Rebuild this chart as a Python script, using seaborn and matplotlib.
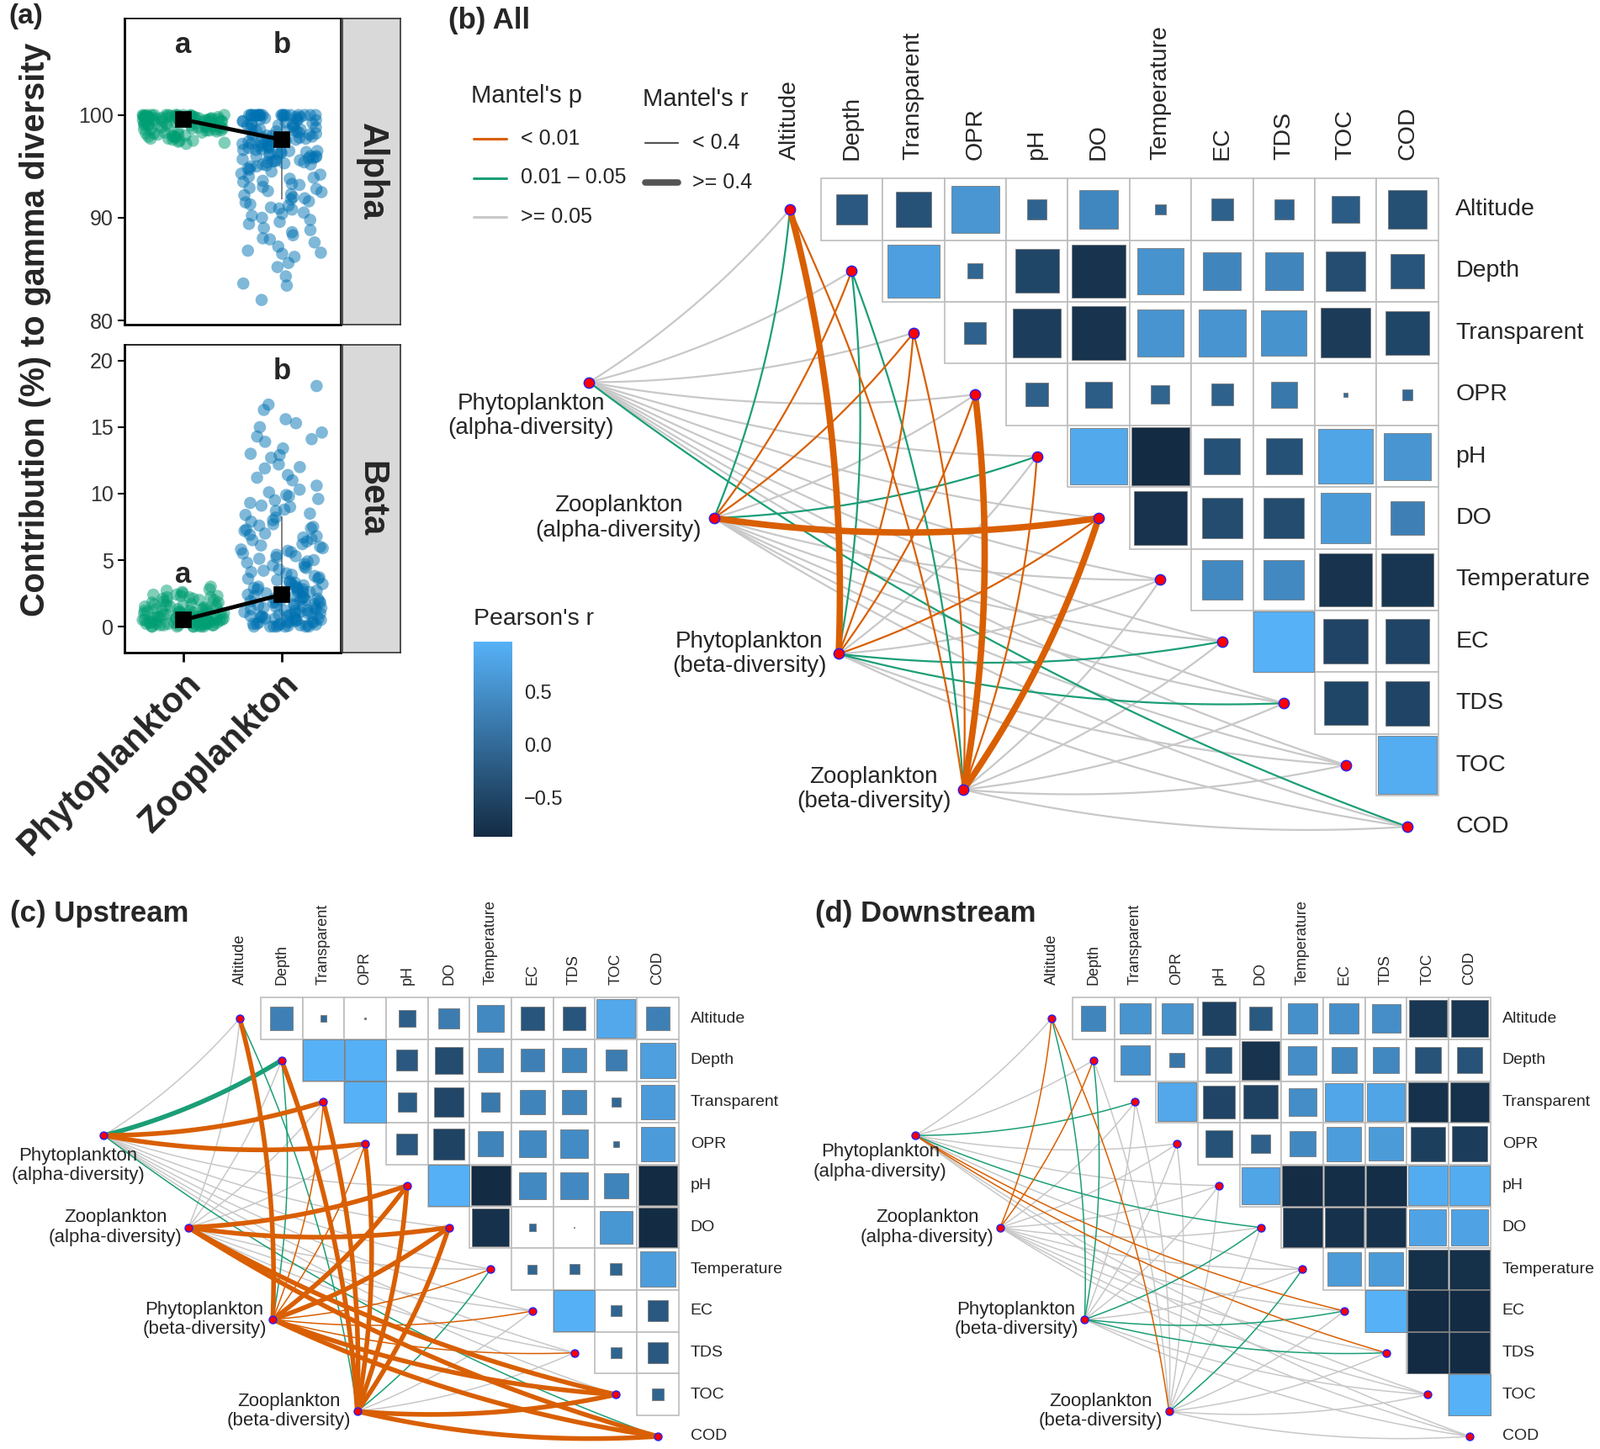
import numpy as np
import pandas as pd
import matplotlib
matplotlib.use("Agg")
import matplotlib.pyplot as plt
import seaborn as sns
from matplotlib.colors import LinearSegmentedColormap, Normalize
from matplotlib.patches import Rectangle
from matplotlib.lines import Line2D
from matplotlib.cm import ScalarMappable
from matplotlib.ticker import FuncFormatter

sns.set_theme(style="white")
plt.rcParams["font.family"] = ["Liberation Sans", "DejaVu Sans"]

W, H = 1902, 1723

# ---------------- panel (a): contribution to gamma diversity ----------------
groups = ["Phytoplankton", "Zooplankton"]
group_colors = ["#009E73", "#0072B2"]

phyto_alpha = [100.0, 100.0, 100.0, 100.0, 100.0, 100.0, 99.9, 99.9, 99.9, 99.8, 99.8, 99.8,
               99.7, 99.7, 99.7, 99.6, 99.6, 99.5, 99.5, 99.5, 99.4, 99.4, 99.3, 99.3, 99.2,
               99.2, 99.1, 99.1, 99.0, 99.0, 98.9, 98.8, 98.8, 98.7, 98.6, 98.5, 98.5, 98.4,
               98.3, 98.2, 98.1, 98.0, 97.9, 97.8, 97.7, 97.6, 97.5, 97.4, 97.3, 99.9, 99.6,
               99.4, 99.0, 98.6, 98.2, 100.0, 99.8, 99.3, 98.9, 97.9, 100.0, 100.0, 100.0, 99.9,
               99.9, 99.8, 99.8, 99.7, 99.7, 99.6, 99.6, 99.5, 99.5, 99.4, 99.4, 99.3, 99.2,
               99.1, 99.0, 98.9, 98.8, 98.7, 98.6, 98.4, 98.3, 98.1, 97.9, 97.7, 97.5, 97.2,
               100.0, 99.9, 99.8, 99.7, 99.5, 99.3, 99.1, 98.8, 98.5, 98.0]
zoo_alpha = [100.0, 100.0, 100.0, 100.0, 100.0, 100.0, 100.0, 100.0, 100.0, 100.0, 99.9, 99.8,
             99.7, 99.6, 99.5, 99.4, 99.3, 99.2, 99.1, 99.0, 98.9, 98.8, 98.7, 98.6, 98.5, 98.4,
             98.3, 98.2, 98.1, 98.0, 97.9, 97.8, 97.7, 97.6, 97.5, 97.4, 97.3, 97.2, 97.1, 97.0,
             96.9, 96.8, 96.7, 96.6, 96.5, 96.4, 96.3, 96.2, 96.1, 96.0, 95.9, 95.8, 95.7, 95.6,
             95.5, 95.4, 95.3, 95.2, 95.1, 95.0, 99.9, 99.5, 99.0, 98.5, 98.0, 97.5, 97.0, 96.5,
             96.0, 95.5, 94.8, 94.5, 94.2, 94.0, 93.8, 93.5, 93.3, 93.0, 92.8, 92.5, 92.3, 92.0,
             91.8, 91.5, 91.3, 91.0, 90.8, 90.5, 90.2, 90.0, 89.8, 89.4, 89.0, 88.6, 88.3, 88.0,
             87.6, 87.2, 86.8, 86.5, 86.2, 85.6, 85.2, 84.3, 83.6, 83.4, 82.0, 100.0, 100.0,
             100.0, 100.0, 100.0, 100.0, 100.0, 100.0, 99.8, 99.6, 99.4, 99.2, 99.0, 98.8, 98.6,
             98.4, 98.2, 98.0, 97.8, 97.6, 97.4, 97.2, 97.0, 96.8, 96.6, 96.4, 96.2, 96.0, 95.8,
             95.6, 95.4, 95.2, 95.0, 94.7, 94.3, 93.9, 93.6, 93.2, 92.9, 92.6, 92.2, 91.9, 91.6,
             91.2, 90.9, 90.4, 89.6, 88.8, 87.9, 86.6]
phyto_beta = [0.0, 0.0, 0.0, 0.0, 0.1, 0.1, 0.1, 0.2, 0.2, 0.2, 0.3, 0.3, 0.3, 0.4, 0.4, 0.4,
              0.5, 0.5, 0.5, 0.6, 0.6, 0.7, 0.7, 0.8, 0.8, 0.9, 0.9, 1.0, 1.0, 1.1, 1.1, 1.2,
              1.2, 1.3, 1.3, 1.4, 1.5, 1.5, 1.6, 1.7, 1.8, 1.9, 2.0, 2.1, 2.2, 2.3, 2.4, 2.5,
              2.7, 3.0, 0.0, 0.2, 0.4, 0.6, 0.8, 1.0, 0.1, 0.3, 0.5, 0.7, 2.2, 1.6, 0.0, 0.0,
              0.1, 0.2, 0.3, 0.4, 0.5, 0.6, 0.7, 0.8, 0.9, 1.0, 1.1, 1.2, 1.3, 1.4, 1.6, 1.8,
              2.0, 2.2, 2.4, 2.6, 0.05, 0.15, 0.25, 0.35, 0.45, 0.55, 0.65, 0.75, 0.85, 0.95,
              1.05, 1.25, 1.45, 1.65, 1.9, 2.1, 2.3, 2.8]
zoo_beta = [18.1, 16.7, 16.3, 15.6, 15.0, 14.6, 14.1, 13.9, 13.4, 12.9, 12.7, 12.2, 11.9, 11.4,
            11.0, 10.6, 10.3, 9.9, 9.6, 9.3, 9.0, 8.8, 8.5, 8.2, 0.0, 0.0, 0.0, 0.0, 0.1, 0.2,
            0.3, 0.4, 0.5, 0.6, 0.7, 0.8, 0.9, 1.0, 1.1, 1.2, 1.3, 1.4, 1.5, 1.6, 1.7, 1.8, 1.9,
            2.0, 2.1, 2.2, 2.3, 2.4, 2.5, 2.6, 2.7, 2.8, 2.9, 3.0, 3.1, 3.2, 3.3, 3.4, 3.5, 3.6,
            3.8, 4.0, 4.2, 4.4, 4.6, 4.8, 5.0, 5.2, 5.4, 5.6, 5.8, 6.0, 6.2, 6.5, 6.8, 7.0, 7.3,
            7.6, 7.9, 0.2, 0.5, 0.8, 1.1, 1.4, 1.7, 2.0, 2.3, 2.6, 2.9, 3.2, 0.3, 0.6, 0.9, 1.2,
            1.5, 1.8, 2.1, 0.1, 0.4, 0.7, 1.0, 1.3, 4.5, 5.5, 6.6, 7.5, 3.7, 2.8, 1.9, 0.0, 0.05,
            0.15, 0.0, 0.0, 0.1, 0.2, 0.3, 0.4, 0.5, 0.6, 0.7, 0.8, 0.9, 1.0, 1.2, 1.4, 1.6, 1.8,
            2.0, 2.2, 2.4, 2.6, 2.8, 3.0, 3.3, 3.6, 3.9, 4.1, 4.3, 4.7, 4.9, 5.1, 5.3, 5.7, 5.9,
            6.1, 6.4, 6.7, 6.9, 7.2, 7.4, 7.7, 8.0, 8.4, 8.7, 9.1, 9.5, 9.8, 10.1, 11.2, 12.0,
            13.0, 14.3, 15.3]

alpha_means = [99.55, 97.6]
beta_means = [0.5, 2.4]
alpha_err_lo, alpha_err_hi = [99.0, 91.8], [100.0, 100.0]
beta_err_lo, beta_err_hi = [0.0, 0.0], [1.2, 8.3]
alpha_letters, alpha_letter_y = ["a", "b"], [106.8, 106.8]
beta_letters, beta_letter_y = ["a", "b"], [3.9, 19.2]

# ---------------- panels (b)-(d): Mantel networks + correlations ----------------
env_vars = ["Altitude", "Depth", "Transparent", "OPR", "pH", "DO", "Temperature",
            "EC", "TDS", "TOC", "COD"]
species_labels = ["Phytoplankton\n(alpha-diversity)", "Zooplankton\n(alpha-diversity)",
                  "Phytoplankton\n(beta-diversity)", "Zooplankton\n(beta-diversity)"]

# Pearson's r, upper triangle without diagonal (row i -> columns i+1..10)
corr_all = [
    [-0.25, -0.33, 0.60, -0.10, 0.40, -0.03, -0.13, -0.10, -0.20, -0.38],
    [0.72, -0.06, -0.50, -0.75, 0.55, 0.38, 0.38, -0.40, -0.30],
    [-0.12, -0.62, -0.75, 0.57, 0.57, 0.55, -0.65, -0.50],
    [-0.14, -0.18, -0.09, -0.12, 0.18, 0.005, -0.03],
    [0.85, -0.87, -0.34, -0.34, 0.80, 0.58],
    [-0.75, -0.42, -0.42, 0.65, 0.30],
    [0.42, 0.42, -0.75, -0.72],
    [0.97, -0.52, -0.52],
    [-0.50, -0.52],
    [0.90],
]
corr_up = [
    [0.30, -0.02, 0.003, -0.16, 0.25, 0.42, -0.30, -0.30, 0.85, 0.30],
    [0.98, 0.97, -0.25, -0.42, 0.35, 0.30, 0.35, 0.25, 0.72],
    [0.98, -0.20, -0.50, 0.20, 0.35, 0.35, -0.05, 0.68],
    [-0.25, -0.55, 0.35, 0.42, 0.45, -0.02, 0.68],
    [0.97, -0.88, 0.42, 0.42, 0.35, -0.88],
    [-0.80, -0.03, 0.001, 0.60, -0.87],
    [-0.05, -0.06, -0.08, 0.70],
    [0.97, -0.07, -0.25],
    [-0.07, -0.25],
    [-0.08],
]
corr_down = [
    [0.35, 0.55, 0.55, -0.65, -0.30, 0.50, 0.50, 0.47, -0.80, -0.80],
    [0.50, 0.12, -0.38, -0.85, 0.46, 0.38, 0.38, -0.38, -0.38],
    [0.85, -0.60, -0.65, 0.45, 0.82, 0.80, -0.88, -0.88],
    [-0.40, -0.20, 0.38, 0.68, 0.66, -0.68, -0.72],
    [0.80, -0.95, -0.93, -0.93, 0.90, 0.90],
    [-0.88, -0.88, -0.88, 0.78, 0.78],
    [0.66, 0.66, -0.90, -0.90],
    [0.98, -0.97, -0.97],
    [-0.97, -0.97],
    [0.98],
]

# Mantel's p class: 0 = < 0.01, 1 = 0.01 - 0.05, 2 = >= 0.05 (rows: species, cols: env_vars)
p_class_all = [
    [2, 2, 2, 2, 2, 2, 2, 2, 2, 2, 1],
    [1, 0, 0, 2, 1, 0, 2, 2, 2, 2, 2],
    [0, 1, 0, 0, 2, 0, 2, 1, 1, 2, 2],
    [0, 1, 0, 0, 0, 0, 2, 2, 2, 2, 2],
]
# Mantel's r class: 0 = < 0.4, 1 = >= 0.4
r_class_all = [
    [0, 0, 0, 0, 0, 0, 0, 0, 0, 0, 0],
    [0, 0, 0, 0, 0, 1, 0, 0, 0, 0, 0],
    [1, 0, 0, 0, 0, 0, 0, 0, 0, 0, 0],
    [0, 0, 0, 1, 0, 1, 0, 0, 0, 0, 0],
]
p_class_up = [
    [2, 1, 0, 0, 2, 2, 2, 2, 2, 2, 1],
    [2, 2, 2, 2, 0, 0, 2, 2, 2, 0, 0],
    [0, 1, 0, 0, 0, 0, 0, 0, 0, 0, 0],
    [1, 0, 0, 0, 0, 0, 1, 2, 2, 0, 0],
]
r_class_up = [
    [0, 1, 1, 1, 0, 0, 0, 0, 0, 0, 0],
    [0, 0, 0, 0, 1, 1, 0, 0, 0, 1, 1],
    [1, 0, 0, 0, 1, 1, 0, 0, 0, 1, 1],
    [0, 1, 1, 1, 1, 1, 0, 0, 0, 1, 1],
]
p_class_down = [
    [2, 2, 1, 2, 2, 1, 2, 0, 0, 2, 2],
    [0, 0, 2, 2, 2, 2, 2, 2, 2, 2, 2],
    [1, 1, 2, 2, 2, 1, 2, 1, 1, 2, 2],
    [0, 2, 2, 2, 2, 2, 1, 2, 2, 2, 2],
]
r_class_down = [
    [0, 0, 0, 0, 0, 0, 0, 0, 0, 0, 0],
    [0, 0, 0, 0, 0, 0, 0, 0, 0, 0, 0],
    [0, 0, 0, 0, 0, 0, 0, 0, 0, 0, 0],
    [0, 0, 0, 0, 0, 0, 0, 0, 0, 0, 0],
]

p_labels = ["< 0.01", "0.01 \u2013 0.05", ">= 0.05"]
p_colors = ["#D95F02", "#1B9E77", "#C8C8C8"]
r_labels = ["< 0.4", ">= 0.4"]

cmap = LinearSegmentedColormap.from_list("gg_blues", ["#132B43", "#56B1F7"])


def fig_rect(x0, y0, x1, y1):
    """pixel box (top-left origin) -> figure fraction rect"""
    return [x0 / W, 1 - y1 / H, (x1 - x0) / W, (y1 - y0) / H]


def curve(p0, p1, k=0.075, n=40):
    # quadratic bezier bowing to the right-hand side of the direction p0 -> p1 (y axis points down)
    p0, p1 = np.asarray(p0, float), np.asarray(p1, float)
    d = p1 - p0
    ctrl = (p0 + p1) / 2 + k * np.array([-d[1], d[0]])
    t = np.linspace(0, 1, n)[:, None]
    pts = (1 - t) ** 2 * p0 + 2 * (1 - t) * t * ctrl + t ** 2 * p1
    return pts[:, 0], pts[:, 1]


def network_panel(fig, origin, cell, xlim, ylim, corr, p_class, r_class, fs_row, fs_col,
                  fs_sp, lw_thin, lw_thick, node_s, sp_gap, pa_offset):
    x0 = origin[0] + xlim[0] * cell
    x1 = origin[0] + xlim[1] * cell
    y0 = origin[1] + ylim[0] * cell
    y1 = origin[1] + ylim[1] * cell
    ax = fig.add_axes(fig_rect(x0, y0, x1, y1))
    ax.set_xlim(*xlim)
    ax.set_ylim(ylim[1], ylim[0])
    ax.axis("off")

    flat = [v for row in corr for v in row]
    norm = Normalize(vmin=min(flat), vmax=max(flat))

    n = len(env_vars)
    for i, row in enumerate(corr):
        for k, r in enumerate(row):
            j = i + 1 + k
            ax.add_patch(Rectangle((j - 0.5, i - 0.5), 1, 1, facecolor="white",
                                   edgecolor="#BDBDBD", lw=1.2, zorder=1))
            side = np.sqrt(abs(r))
            ax.add_patch(Rectangle((j - side / 2, i - side / 2), side, side,
                                   facecolor=cmap(norm(r)), edgecolor="#7A7A7A",
                                   lw=0.6, zorder=2))

    for i, name in enumerate(env_vars):
        ax.text(n - 0.5 + 0.28, i, name, ha="left", va="center", fontsize=fs_row)
        ax.text(i, -0.5 - 0.3, name, ha="center", va="bottom", rotation=90, fontsize=fs_col)

    env_x = np.arange(n, dtype=float)
    env_y = np.arange(n, dtype=float)
    sp_x = -3.25 + 2.02 * np.arange(len(species_labels))
    sp_y = 2.8 + 2.2 * np.arange(len(species_labels))

    links = []
    for s in range(len(species_labels)):
        for e in range(n):
            links.append((p_class[s][e], r_class[s][e], s, e))
    links.sort(key=lambda t: (-t[0], t[1]))
    for pc, rc, s, e in links:
        xs, ys = curve((sp_x[s], sp_y[s]), (env_x[e], env_y[e]))
        ax.plot(xs, ys, color=p_colors[pc], lw=lw_thick if rc else lw_thin,
                solid_capstyle="round", zorder=3)

    ax.scatter(env_x, env_y, s=node_s, color="#FF0000", edgecolor="#2020FF", lw=1.0, zorder=5)
    ax.scatter(sp_x, sp_y, s=node_s, color="#FF0000", edgecolor="#2020FF", lw=1.0, zorder=5)

    for s, lab in enumerate(species_labels):
        if s == 0:
            ax.text(sp_x[s] + pa_offset[0], sp_y[s] + pa_offset[1], lab, ha="right", va="top",
                    multialignment="center", fontsize=fs_sp, linespacing=1.15)
        else:
            ax.text(sp_x[s] - sp_gap, sp_y[s], lab, ha="right", va="center",
                    multialignment="center", fontsize=fs_sp, linespacing=1.15)
    return ax, norm


fig = plt.figure(figsize=(W / 100, H / 100), dpi=100)

# ---------------- panel (a) ----------------
ax_top = fig.add_axes(fig_rect(148, 22, 405, 386))
ax_bot = fig.add_axes(fig_rect(148, 410, 405, 776))
facets = [
    (ax_top, phyto_alpha, zoo_alpha, alpha_means, alpha_err_lo, alpha_err_hi,
     alpha_letters, alpha_letter_y, (79.6, 109.4), [80, 90, 100], "Alpha", (22, 386)),
    (ax_bot, phyto_beta, zoo_beta, beta_means, beta_err_lo, beta_err_hi,
     beta_letters, beta_letter_y, (-1.96, 21.2), [0, 5, 10, 15, 20], "Beta", (410, 776)),
]
for ax, ph, zo, means, lo, hi, letters, ly, ylim, yticks, strip, (sy0, sy1) in facets:
    df = pd.DataFrame({"group": [groups[0]] * len(ph) + [groups[1]] * len(zo),
                       "value": ph + zo})
    ax.vlines(range(len(groups)), lo, hi, color="#1a1a1a", lw=1.4, alpha=0.55, zorder=1)
    sns.stripplot(data=df, x="group", y="value", hue="group", order=groups,
                  hue_order=groups, palette=group_colors, jitter=0.42, size=10.5,
                  alpha=0.5, linewidth=0, legend=False, ax=ax, zorder=2)
    sns.pointplot(x=groups, y=means, order=groups, color="black", markers="s",
                  linestyles="-", markersize=12, linewidth=3.5, errorbar=None,
                  ax=ax, zorder=5)
    for gi, (lt, yy) in enumerate(zip(letters, ly)):
        ax.text(gi, yy, lt, ha="center", va="center", fontsize=25, fontweight="bold")
    ax.set_xlim(-0.6, 1.6)
    ax.set_ylim(*ylim)
    ax.set_yticks(yticks)
    ax.set_xlabel("")
    ax.set_ylabel("")
    ax.tick_params(axis="y", labelsize=18, labelcolor="#333333", length=6, width=1.5,
                   color="black", left=True)
    for side, sp in ax.spines.items():
        sp.set_color("black")
        sp.set_linewidth(2.0 if side in ("left", "bottom") else 1.2)
    sax = fig.add_axes(fig_rect(407, sy0, 476, sy1))
    sax.set_facecolor("#D9D9D9")
    sax.set_xticks([])
    sax.set_yticks([])
    for sp in sax.spines.values():
        sp.set_color("#333333")
        sp.set_linewidth(1.2)
    sax.text(0.5, 0.5, strip, rotation=-90, ha="center", va="center", fontsize=30,
             fontweight="bold", transform=sax.transAxes)

ax_top.tick_params(axis="x", bottom=False, labelbottom=False)
ax_bot.tick_params(axis="x", bottom=True, length=8, width=2, color="black", pad=4)
ax_bot.set_xticks(range(len(groups)))
ax_bot.set_xticklabels(groups, rotation=45, ha="right", va="top", rotation_mode="anchor",
                       fontsize=30, fontweight="bold")

fig.text(42 / W, 1 - 392 / H, "Contribution (%) to gamma diversity", rotation=90,
         ha="center", va="center", fontsize=28.5, fontweight="bold")
fig.text(10 / W, 1 - 4 / H, "(a)", ha="left", va="top", fontsize=24, fontweight="bold")

# ---------------- panel (b) All ----------------
ax_b, norm_b = network_panel(fig, (939, 249), 73.4, (-6.0, 13.0), (-3.3, 10.9),
                             corr_all, p_class_all, r_class_all,
                             fs_row=20.5, fs_col=20.5, fs_sp=20, lw_thin=1.6, lw_thick=5.5,
                             node_s=80, sp_gap=0.2, pa_offset=(0.4, 0.17))
fig.text(533 / W, 1 - 8 / H, "(b) All", ha="left", va="top", fontsize=25, fontweight="bold")

# Mantel legends
fig.text(560 / W, 1 - 114 / H, "Mantel's p", ha="left", va="center", fontsize=21)
for i, (lab, col) in enumerate(zip(p_labels, p_colors)):
    yy = 1 - (165 + 46.5 * i) / H
    fig.add_artist(Line2D([563 / W, 602 / W], [yy, yy], color=col, lw=2.2))
    fig.text(619 / W, yy, lab, ha="left", va="center", fontsize=18)
fig.text(764 / W, 1 - 118 / H, "Mantel's r", ha="left", va="center", fontsize=21)
for i, (lab, lw) in enumerate(zip(r_labels, [1.6, 5.5])):
    yy = 1 - (170 + 47 * i) / H
    fig.add_artist(Line2D([767 / W, 806 / W], [yy, yy], color="#555555", lw=lw))
    fig.text(823 / W, yy, lab, ha="left", va="center", fontsize=18)

# Pearson's r colourbar
cax = fig.add_axes(fig_rect(563, 763, 609, 995))
cb = fig.colorbar(ScalarMappable(norm=norm_b, cmap=cmap), cax=cax, ticks=[-0.5, 0.0, 0.5])
cb.outline.set_visible(False)
cb.ax.yaxis.set_major_formatter(FuncFormatter(lambda v, _: f"{v:.1f}".replace("-", "\u2212")))
cb.ax.tick_params(length=7, width=1.2, color="white", direction="in", labelsize=17, pad=10)
fig.text(563 / W, 1 - 736 / H, "Pearson's r", ha="left", va="center", fontsize=20.5)

# ---------------- panel (c) Upstream ----------------
network_panel(fig, (285, 1211), 49.7, (-5.7, 13.2), (-3.0, 10.5),
              corr_up, p_class_up, r_class_up,
              fs_row=14, fs_col=13, fs_sp=16, lw_thin=1.1, lw_thick=4.0,
              node_s=42, sp_gap=0.15, pa_offset=(0.98, 0.27))
fig.text(12 / W, 1 - 1070 / H, "(c) Upstream", ha="left", va="top", fontsize=25,
         fontweight="bold")

# ---------------- panel (d) Downstream ----------------
network_panel(fig, (1250, 1211), 49.7, (-5.7, 13.0), (-3.0, 10.5),
              corr_down, p_class_down, r_class_down,
              fs_row=14, fs_col=13, fs_sp=16, lw_thin=1.1, lw_thick=4.0,
              node_s=42, sp_gap=0.15, pa_offset=(0.75, 0.18))
fig.text(969 / W, 1 - 1070 / H, "(d) Downstream", ha="left", va="top", fontsize=25,
         fontweight="bold")

fig.savefig("out.png", dpi=100)
